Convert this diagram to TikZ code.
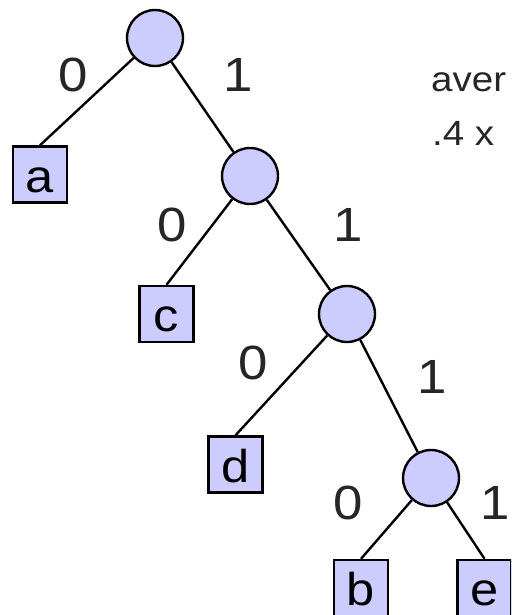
\documentclass[tikz,border=0pt]{standalone}
\usepackage{fontspec}
\setmainfont{Liberation Sans}[FakeStretch=1.1]
\definecolor{nodefill}{HTML}{CCCCFF}
\begin{document}
\begin{tikzpicture}[x=1pt,y=-1pt,
  split/.style={circle,draw,line width=2.4pt,fill=nodefill,minimum size=56pt,inner sep=0pt},
  leaf/.style={rectangle,draw,line width=2.4pt,fill=nodefill,minimum width=54pt,minimum height=56pt,
    inner sep=0pt,text height=35pt,text depth=0pt,font=\fontsize{46}{50}\selectfont},
  bit/.style={inner sep=0pt,text=black!85,font=\fontsize{48}{50}\selectfont},
  note/.style={anchor=base west,inner sep=0pt,text=black!85,font=\fontsize{35}{40}\selectfont},
  edge/.style={line width=2.4pt}]
\useasboundingbox (0,0) rectangle (511,615);
\clip (0,0) rectangle (511,615);
\node[split] (n1) at (155,38) {};
\node[split] (n2) at (250,176) {};
\node[split] (n3) at (347,314) {};
\node[split] (n4) at (431,478) {};
\node[leaf] (a) at (40,174.5) {a};
\node[leaf] (c) at (166.5,314) {c};
\node[leaf] (d) at (235.5,464.5) {d};
\node[leaf] (b) at (361,588) {b};
\node[leaf] (e) at (484.5,588) {e};
\draw[edge] (n1) -- (a.north);
\draw[edge] (n1) -- (n2);
\draw[edge] (n2) -- (c.north);
\draw[edge] (n2) -- (n3);
\draw[edge] (n3) -- (d.north);
\draw[edge] (n3) -- (n4);
\draw[edge] (n4) -- (b.north);
\draw[edge] (n4) -- (e.north);
\node[bit] (b10) at (73,75) {0};
\node[bit] (b11) at (238,75) {1};
\node[bit] (b20) at (172,225) {0};
\node[bit] (b21) at (348,225) {1};
\node[bit] (b30) at (253,363) {0};
\node[bit] (b31) at (432,377) {1};
\node[bit] (b40) at (348,503) {0};
\node[bit] (b41) at (495,503) {1};
\node[note] (avg) at (431,92) {aver};
\node[note] (sum) at (432,145) {.4 x};
\end{tikzpicture}
\end{document}
